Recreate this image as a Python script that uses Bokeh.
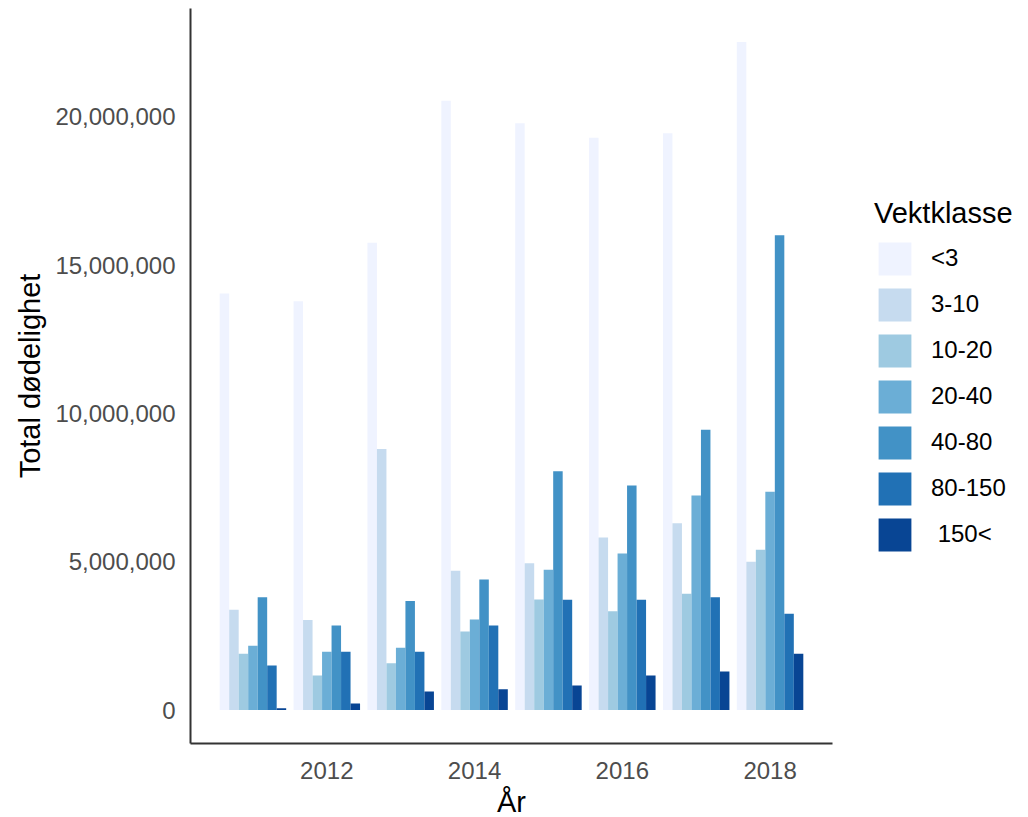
from bokeh.plotting import figure
from bokeh.models import ColumnDataSource, Legend, LegendItem, FixedTicker, NumeralTickFormatter, Range1d
from bokeh.embed import file_html
from bokeh.resources import INLINE

years = [2011, 2012, 2013, 2014, 2015, 2016, 2017, 2018]
classes = ["<3", "3-10", "10-20", "20-40", "40-80", "80-150", " 150<"]
colors = ["#EFF3FF", "#C6DBEF", "#9ECAE1", "#6BAED6", "#4292C6", "#2171B5", "#084594"]

v_lt3 = [14.04e6, 13.78e6, 15.75e6, 20.54e6, 19.78e6, 19.29e6, 19.44e6, 22.52e6]
v_3_10 = [3.38e6, 3.04e6, 8.80e6, 4.70e6, 4.95e6, 5.82e6, 6.30e6, 5.00e6]
v_10_20 = [1.90e6, 1.17e6, 1.58e6, 2.65e6, 3.73e6, 3.33e6, 3.92e6, 5.40e6]
v_20_40 = [2.17e6, 1.97e6, 2.10e6, 3.05e6, 4.73e6, 5.28e6, 7.23e6, 7.36e6]
v_40_80 = [3.80e6, 2.85e6, 3.68e6, 4.40e6, 8.05e6, 7.57e6, 9.45e6, 16.00e6]
v_80_150 = [1.50e6, 1.97e6, 1.97e6, 2.85e6, 3.72e6, 3.72e6, 3.80e6, 3.25e6]
v_150 = [0.06e6, 0.22e6, 0.63e6, 0.70e6, 0.83e6, 1.17e6, 1.30e6, 1.90e6]

series = [v_lt3, v_3_10, v_10_20, v_20_40, v_40_80, v_80_150, v_150]
x_ticks = [2012, 2014, 2016, 2018]

FONT = "Liberation Sans"
dodge = 0.9
bw = dodge / len(classes)

ymax = max(max(s) for s in series)
ypad = 0.05 * ymax
x0 = min(years) - dodge / 2
x1 = max(years) + dodge / 2
xpad = 0.05 * (x1 - x0)

p = figure(frame_width=642, frame_height=735, output_backend="svg", toolbar_location=None,
           x_range=Range1d(x0 - xpad, x1 + xpad), y_range=Range1d(-ypad, ymax + ypad),
           min_border_left=190, min_border_right=190, min_border_top=8, min_border_bottom=74)
p.outline_line_color = None
p.xgrid.visible = False
p.ygrid.visible = False
p.background_fill_color = "white"
p.border_fill_color = "white"

items = []
for i, (cls, vals, col) in enumerate(zip(classes, series, colors)):
    off = (i - (len(classes) - 1) / 2) * bw
    src = ColumnDataSource(dict(x=[y + off for y in years], top=vals))
    r = p.vbar(x="x", top="top", bottom=0, width=bw, source=src, fill_color=col, line_color=None)
    items.append(LegendItem(label=cls, renderers=[r]))

for ax in (p.xaxis[0], p.yaxis[0]):
    ax.axis_line_color = "#333333"
    ax.axis_line_width = 2
    ax.major_tick_line_color = None
    ax.minor_tick_line_color = None
    ax.major_tick_out = 0
    ax.major_tick_in = 0
    ax.minor_tick_out = 0
    ax.major_label_text_font = FONT
    ax.major_label_text_font_size = "24px"
    ax.major_label_text_color = "#4D4D4D"
    ax.axis_label_text_font = FONT
    ax.axis_label_text_font_size = "29px"
    ax.axis_label_text_font_style = "normal"
    ax.axis_label_text_color = "black"

p.xaxis.ticker = FixedTicker(ticks=x_ticks)
p.xaxis.axis_label = "År"
p.xaxis.major_label_standoff = 18
p.xaxis.axis_label_standoff = 4

p.yaxis.ticker = FixedTicker(ticks=[0, 5e6, 10e6, 15e6, 20e6])
p.yaxis.formatter = NumeralTickFormatter(format="0,0")
p.yaxis.axis_label = "Total dødelighet"
p.yaxis.major_label_standoff = 15
p.yaxis.axis_label_standoff = 6

legend = Legend(items=items, title="Vektklasse", location="left",
                glyph_width=41, glyph_height=41, spacing=5, label_standoff=16,
                padding=0, margin=42, background_fill_alpha=0, border_line_color=None,
                label_text_font=FONT, label_text_font_size="24px", label_text_color="black",
                title_text_font=FONT, title_text_font_size="29px", title_text_font_style="normal",
                title_text_color="black", title_standoff=8)
p.add_layout(legend, "right")

open("out.html", "w").write(file_html(p, INLINE))
